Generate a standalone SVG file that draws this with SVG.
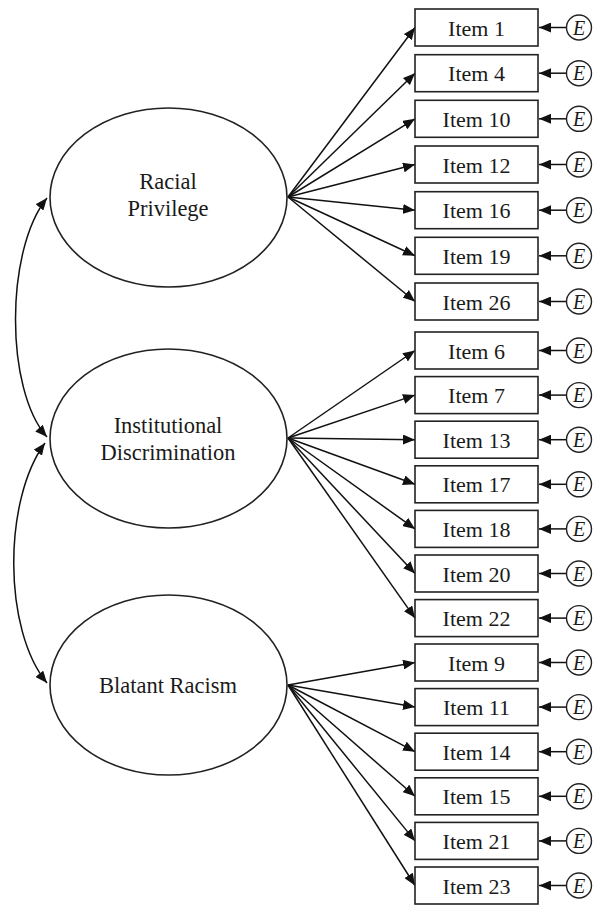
<svg xmlns="http://www.w3.org/2000/svg" width="596" height="905" viewBox="0 0 596 905">
  <style>
    .lat { fill: #fff; stroke: #222; stroke-width: 1.6; }
    .box { fill: #fff; stroke: #222; stroke-width: 1.6; }
    .err { fill: #fff; stroke: #222; stroke-width: 1.4; }
    .lbl { font-family: "Liberation Serif", "Times New Roman", serif; fill: #1a1a1a; text-anchor: middle; }
    .lat-t { font-size: 22.5px; }
    .item-t { font-size: 22px; }
    .e-t { font-size: 20px; font-style: italic; }
    .edge { fill: none; stroke: #111; stroke-width: 1.5; marker-end: url(#ah); }
    .cov { fill: none; stroke: #111; stroke-width: 1.5; marker-start: url(#ahs); marker-end: url(#ah); }
  </style>
  <defs>
    <marker id="ah" viewBox="0 0 12 10" refX="12" refY="5" markerWidth="12" markerHeight="10" markerUnits="userSpaceOnUse" orient="auto">
      <path d="M0,0 L12,5 L0,10 z" fill="#111"/>
    </marker>
    <marker id="ahs" viewBox="0 0 12 10" refX="0" refY="5" markerWidth="12" markerHeight="10" markerUnits="userSpaceOnUse" orient="auto">
      <path d="M12,0 L0,5 L12,10 z" fill="#111"/>
    </marker>
  </defs>

  <rect width="596" height="905" fill="#fff"/>

  <!-- connectors -->
  <g id="connectors">
    <!-- covariances between factors -->
    <path class="cov" d="M47,198 C5,250 5,390 47,437"/>
    <path class="cov" d="M45,443 C3,500 3,630 47,683"/>
    <!-- Racial Privilege loadings -->
    <line class="edge" x1="288" y1="197" x2="415" y2="27.5"/>
    <line class="edge" x1="288" y1="197" x2="415" y2="73.2"/>
    <line class="edge" x1="288" y1="197" x2="415" y2="118.8"/>
    <line class="edge" x1="288" y1="197" x2="415" y2="164.5"/>
    <line class="edge" x1="288" y1="197" x2="415" y2="210.2"/>
    <line class="edge" x1="288" y1="197" x2="415" y2="255.8"/>
    <line class="edge" x1="288" y1="197" x2="415" y2="301.5"/>
    <!-- Institutional Discrimination loadings -->
    <line class="edge" x1="288" y1="438" x2="415" y2="350.5"/>
    <line class="edge" x1="288" y1="438" x2="415" y2="395.1"/>
    <line class="edge" x1="288" y1="438" x2="415" y2="439.7"/>
    <line class="edge" x1="288" y1="438" x2="415" y2="484.3"/>
    <line class="edge" x1="288" y1="438" x2="415" y2="528.9"/>
    <line class="edge" x1="288" y1="438" x2="415" y2="573.5"/>
    <line class="edge" x1="288" y1="438" x2="415" y2="618.1"/>
    <!-- Blatant Racism loadings -->
    <line class="edge" x1="288" y1="685" x2="415" y2="662.5"/>
    <line class="edge" x1="288" y1="685" x2="415" y2="707.1"/>
    <line class="edge" x1="288" y1="685" x2="415" y2="751.7"/>
    <line class="edge" x1="288" y1="685" x2="415" y2="796.3"/>
    <line class="edge" x1="288" y1="685" x2="415" y2="840.9"/>
    <line class="edge" x1="288" y1="685" x2="415" y2="885.5"/>
    <!-- error terms -->
    <line class="edge" x1="566.5" y1="27.5" x2="539" y2="27.5"/>
    <line class="edge" x1="566.5" y1="73.2" x2="539" y2="73.2"/>
    <line class="edge" x1="566.5" y1="118.8" x2="539" y2="118.8"/>
    <line class="edge" x1="566.5" y1="164.5" x2="539" y2="164.5"/>
    <line class="edge" x1="566.5" y1="210.2" x2="539" y2="210.2"/>
    <line class="edge" x1="566.5" y1="255.8" x2="539" y2="255.8"/>
    <line class="edge" x1="566.5" y1="301.5" x2="539" y2="301.5"/>
    <line class="edge" x1="566.5" y1="350.5" x2="539" y2="350.5"/>
    <line class="edge" x1="566.5" y1="395.1" x2="539" y2="395.1"/>
    <line class="edge" x1="566.5" y1="439.7" x2="539" y2="439.7"/>
    <line class="edge" x1="566.5" y1="484.3" x2="539" y2="484.3"/>
    <line class="edge" x1="566.5" y1="528.9" x2="539" y2="528.9"/>
    <line class="edge" x1="566.5" y1="573.5" x2="539" y2="573.5"/>
    <line class="edge" x1="566.5" y1="618.1" x2="539" y2="618.1"/>
    <line class="edge" x1="566.5" y1="662.5" x2="539" y2="662.5"/>
    <line class="edge" x1="566.5" y1="707.1" x2="539" y2="707.1"/>
    <line class="edge" x1="566.5" y1="751.7" x2="539" y2="751.7"/>
    <line class="edge" x1="566.5" y1="796.3" x2="539" y2="796.3"/>
    <line class="edge" x1="566.5" y1="840.9" x2="539" y2="840.9"/>
    <line class="edge" x1="566.5" y1="885.5" x2="539" y2="885.5"/>
  </g>

  <!-- latent factors -->
  <g id="racial-privilege">
    <ellipse class="lat" cx="168.5" cy="197.5" rx="118.5" ry="89.5"/>
    <text class="lbl lat-t" x="168" y="189">Racial</text>
    <text class="lbl lat-t" x="168" y="216">Privilege</text>
  </g>
  <g id="institutional-discrimination">
    <ellipse class="lat" cx="168.5" cy="438.5" rx="118.5" ry="89.5"/>
    <text class="lbl lat-t" x="168" y="433">Institutional</text>
    <text class="lbl lat-t" x="168" y="460">Discrimination</text>
  </g>
  <g id="blatant-racism">
    <ellipse class="lat" cx="168.5" cy="685" rx="118.5" ry="90"/>
    <text class="lbl lat-t" x="168" y="693">Blatant Racism</text>
  </g>

  <!-- observed items -->
  <g id="item1"><rect class="box" x="415" y="9" width="123" height="37"/><text class="lbl item-t" x="476.5" y="35.5">Item 1</text></g>
  <g id="item4"><rect class="box" x="415" y="54.7" width="123" height="37"/><text class="lbl item-t" x="476.5" y="81.2">Item 4</text></g>
  <g id="item10"><rect class="box" x="415" y="100.3" width="123" height="37"/><text class="lbl item-t" x="476.5" y="126.8">Item 10</text></g>
  <g id="item12"><rect class="box" x="415" y="146" width="123" height="37"/><text class="lbl item-t" x="476.5" y="172.5">Item 12</text></g>
  <g id="item16"><rect class="box" x="415" y="191.7" width="123" height="37"/><text class="lbl item-t" x="476.5" y="218.2">Item 16</text></g>
  <g id="item19"><rect class="box" x="415" y="237.3" width="123" height="37"/><text class="lbl item-t" x="476.5" y="263.8">Item 19</text></g>
  <g id="item26"><rect class="box" x="415" y="283" width="123" height="37"/><text class="lbl item-t" x="476.5" y="309.5">Item 26</text></g>
  <g id="item6"><rect class="box" x="415" y="332" width="123" height="37"/><text class="lbl item-t" x="476.5" y="358.5">Item 6</text></g>
  <g id="item7"><rect class="box" x="415" y="376.6" width="123" height="37"/><text class="lbl item-t" x="476.5" y="403.1">Item 7</text></g>
  <g id="item13"><rect class="box" x="415" y="421.2" width="123" height="37"/><text class="lbl item-t" x="476.5" y="447.7">Item 13</text></g>
  <g id="item17"><rect class="box" x="415" y="465.8" width="123" height="37"/><text class="lbl item-t" x="476.5" y="492.3">Item 17</text></g>
  <g id="item18"><rect class="box" x="415" y="510.4" width="123" height="37"/><text class="lbl item-t" x="476.5" y="536.9">Item 18</text></g>
  <g id="item20"><rect class="box" x="415" y="555" width="123" height="37"/><text class="lbl item-t" x="476.5" y="581.5">Item 20</text></g>
  <g id="item22"><rect class="box" x="415" y="599.6" width="123" height="37"/><text class="lbl item-t" x="476.5" y="626.1">Item 22</text></g>
  <g id="item9"><rect class="box" x="415" y="644" width="123" height="37"/><text class="lbl item-t" x="476.5" y="670.5">Item 9</text></g>
  <g id="item11"><rect class="box" x="415" y="688.6" width="123" height="37"/><text class="lbl item-t" x="476.5" y="715.1">Item 11</text></g>
  <g id="item14"><rect class="box" x="415" y="733.2" width="123" height="37"/><text class="lbl item-t" x="476.5" y="759.7">Item 14</text></g>
  <g id="item15"><rect class="box" x="415" y="777.8" width="123" height="37"/><text class="lbl item-t" x="476.5" y="804.3">Item 15</text></g>
  <g id="item21"><rect class="box" x="415" y="822.4" width="123" height="37"/><text class="lbl item-t" x="476.5" y="848.9">Item 21</text></g>
  <g id="item23"><rect class="box" x="415" y="867" width="123" height="37"/><text class="lbl item-t" x="476.5" y="893.5">Item 23</text></g>

  <!-- error terms -->
  <g id="errors">
    <g id="e1"><circle class="err" cx="579" cy="27.5" r="12.5"/><text class="lbl e-t" x="579" y="34.5">E</text></g>
    <g id="e4"><circle class="err" cx="579" cy="73.2" r="12.5"/><text class="lbl e-t" x="579" y="80.2">E</text></g>
    <g id="e10"><circle class="err" cx="579" cy="118.8" r="12.5"/><text class="lbl e-t" x="579" y="125.8">E</text></g>
    <g id="e12"><circle class="err" cx="579" cy="164.5" r="12.5"/><text class="lbl e-t" x="579" y="171.5">E</text></g>
    <g id="e16"><circle class="err" cx="579" cy="210.2" r="12.5"/><text class="lbl e-t" x="579" y="217.2">E</text></g>
    <g id="e19"><circle class="err" cx="579" cy="255.8" r="12.5"/><text class="lbl e-t" x="579" y="262.8">E</text></g>
    <g id="e26"><circle class="err" cx="579" cy="301.5" r="12.5"/><text class="lbl e-t" x="579" y="308.5">E</text></g>
    <g id="e6"><circle class="err" cx="579" cy="350.5" r="12.5"/><text class="lbl e-t" x="579" y="357.5">E</text></g>
    <g id="e7"><circle class="err" cx="579" cy="395.1" r="12.5"/><text class="lbl e-t" x="579" y="402.1">E</text></g>
    <g id="e13"><circle class="err" cx="579" cy="439.7" r="12.5"/><text class="lbl e-t" x="579" y="446.7">E</text></g>
    <g id="e17"><circle class="err" cx="579" cy="484.3" r="12.5"/><text class="lbl e-t" x="579" y="491.3">E</text></g>
    <g id="e18"><circle class="err" cx="579" cy="528.9" r="12.5"/><text class="lbl e-t" x="579" y="535.9">E</text></g>
    <g id="e20"><circle class="err" cx="579" cy="573.5" r="12.5"/><text class="lbl e-t" x="579" y="580.5">E</text></g>
    <g id="e22"><circle class="err" cx="579" cy="618.1" r="12.5"/><text class="lbl e-t" x="579" y="625.1">E</text></g>
    <g id="e9"><circle class="err" cx="579" cy="662.5" r="12.5"/><text class="lbl e-t" x="579" y="669.5">E</text></g>
    <g id="e11"><circle class="err" cx="579" cy="707.1" r="12.5"/><text class="lbl e-t" x="579" y="714.1">E</text></g>
    <g id="e14"><circle class="err" cx="579" cy="751.7" r="12.5"/><text class="lbl e-t" x="579" y="758.7">E</text></g>
    <g id="e15"><circle class="err" cx="579" cy="796.3" r="12.5"/><text class="lbl e-t" x="579" y="803.3">E</text></g>
    <g id="e21"><circle class="err" cx="579" cy="840.9" r="12.5"/><text class="lbl e-t" x="579" y="847.9">E</text></g>
    <g id="e23"><circle class="err" cx="579" cy="885.5" r="12.5"/><text class="lbl e-t" x="579" y="892.5">E</text></g>
  </g>
</svg>
